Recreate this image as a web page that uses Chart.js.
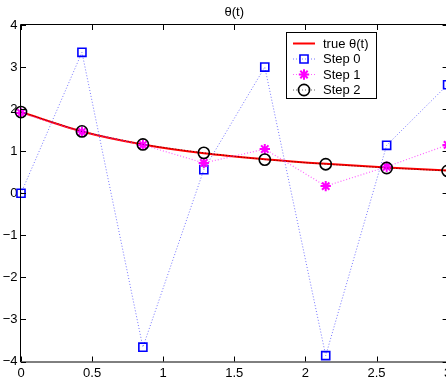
<!DOCTYPE html>
<html lang="en">

<head>
    <meta charset="UTF-8">
    <title>θ(t)</title>
    <script src="https://cdn.jsdelivr.net/npm/chart.js"></script>
    <style>
        body { margin: 0; overflow: hidden; background: #fff; }
        .chart-container { position: relative; width: 450px; height: 381px; }
    </style>
</head>

<body>
    <div class="chart-container">
        <canvas id="thetaChart" width="450" height="381"></canvas>
    </div>

    <script>
        // values
        const times = [0, 0.4286, 0.8571, 1.2857, 1.7143, 2.1429, 2.5714, 3];
        const trueTheta = [1.93, 1.47, 1.16, 0.95, 0.81, 0.70, 0.61, 0.54];
        const step0 = [0, 3.35, -3.66, 0.56, 3.0, -3.86, 1.14, 2.58];
        const step1 = [1.91, 1.46, 1.15, 0.72, 1.05, 0.17, 0.63, 1.15];
        const step2 = [1.93, 1.47, 1.16, 0.96, 0.80, 0.69, 0.60, 0.53];
        const xTicks = [0, 0.5, 1, 1.5, 2, 2.5, 3];
        const yTicks = [-4, -3, -2, -1, 0, 1, 2, 3, 4];
        const titleText = 'θ(t)';
        const legendLabels = ['true θ(t)', 'Step 0', 'Step 1', 'Step 2'];

        const toPoints = ys => times.map((t, i) => ({ x: t, y: ys[i] }));

        Chart.defaults.font.family = '"Liberation Sans", Arial, sans-serif';
        Chart.defaults.font.size = 13;
        Chart.defaults.color = '#000';

        const datasets = [{
            label: legendLabels[0],
            data: toPoints(trueTheta),
            borderColor: '#ff0000',
            borderWidth: 2,
            pointRadius: 0,
            cubicInterpolationMode: 'monotone',
            order: 3
        }, {
            label: legendLabels[1],
            data: toPoints(step0),
            borderColor: 'rgba(60, 60, 255, 0.7)',
            borderWidth: 1,
            borderDash: [1, 2],
            pointStyle: 'rect',
            pointRadius: 5.7,
            pointBorderWidth: 1.6,
            pointBorderColor: '#0000ff',
            pointBackgroundColor: 'rgba(0,0,0,0)',
            order: 2
        }, {
            label: legendLabels[2],
            data: toPoints(step1),
            borderColor: 'rgba(255, 60, 255, 0.8)',
            borderWidth: 1.2,
            borderDash: [1, 2],
            pointStyle: 'star',
            pointRadius: 5.2,
            pointBorderWidth: 2,
            pointBorderColor: '#ff00ff',
            pointBackgroundColor: 'rgba(0,0,0,0)',
            order: 1
        }, {
            label: legendLabels[3],
            data: toPoints(step2),
            borderColor: 'rgba(0, 0, 0, 0.6)',
            borderWidth: 1,
            borderDash: [1, 2],
            pointStyle: 'circle',
            pointRadius: 5.6,
            pointBorderWidth: 1.6,
            pointBorderColor: '#000',
            pointBackgroundColor: 'rgba(0,0,0,0)',
            order: 0
        }];

        // frame, inward ticks, title and legend in MATLAB style
        const matlabAxes = {
            id: 'matlabAxes',
            afterDraw(chart) {
                const ctx = chart.ctx;
                const area = chart.chartArea;
                const xs = chart.scales.x, ys = chart.scales.y;
                ctx.save();
                ctx.strokeStyle = '#000';
                ctx.lineWidth = 1;
                ctx.beginPath();
                ctx.rect(area.left - 0.5, area.top - 0.5, area.right - area.left, area.bottom - area.top + 1);
                xTicks.forEach(v => {
                    const px = Math.round(xs.getPixelForValue(v)) + 0.5;
                    ctx.moveTo(px, area.bottom); ctx.lineTo(px, area.bottom - 5);
                    ctx.moveTo(px, area.top); ctx.lineTo(px, area.top + 5);
                });
                yTicks.forEach(v => {
                    const py = Math.round(ys.getPixelForValue(v)) + 0.5;
                    ctx.moveTo(area.left, py); ctx.lineTo(area.left + 5, py);
                    ctx.moveTo(area.right, py); ctx.lineTo(area.right - 5, py);
                });
                ctx.stroke();

                // title
                ctx.fillStyle = '#000';
                ctx.font = '13px "Liberation Sans", Arial, sans-serif';
                ctx.textAlign = 'center';
                ctx.textBaseline = 'middle';
                ctx.fillText(titleText, (area.left + area.right) / 2, 12);

                // legend box
                const bx = 286.5, by = 32.5, bw = 90, bh = 66;
                ctx.fillStyle = '#fff';
                ctx.fillRect(bx, by, bw, bh);
                ctx.strokeRect(bx, by, bw, bh);
                const rowY = [43.5, 59, 74.5, 90];
                ctx.textAlign = 'left';
                datasets.forEach((ds, i) => {
                    const y = rowY[i];
                    ctx.save();
                    ctx.strokeStyle = ds.borderColor;
                    ctx.lineWidth = ds.borderWidth;
                    ctx.setLineDash(ds.borderDash || []);
                    ctx.beginPath();
                    ctx.moveTo(293, y); ctx.lineTo(315, y);
                    ctx.stroke();
                    ctx.restore();
                    if (ds.pointRadius > 0) {
                        ctx.save();
                        ctx.strokeStyle = ds.pointBorderColor;
                        ctx.fillStyle = ds.pointBackgroundColor;
                        ctx.lineWidth = ds.pointBorderWidth;
                        Chart.helpers.drawPoint(ctx, {
                            pointStyle: ds.pointStyle,
                            rotation: 0,
                            radius: ds.pointRadius,
                            borderWidth: ds.pointBorderWidth
                        }, 304, y);
                        ctx.restore();
                    }
                    ctx.fillStyle = '#000';
                    ctx.fillText(ds.label, 323, y + 0.5);
                });
                ctx.restore();
            }
        };

        const ctx = document.getElementById('thetaChart').getContext('2d');
        new Chart(ctx, {
            type: 'line',
            data: { datasets: datasets },
            plugins: [matlabAxes],
            options: {
                responsive: false,
                animation: false,
                devicePixelRatio: 1,
                clip: false,
                layout: {
                    autoPadding: false,
                    padding: { top: 25, right: 2.4, left: 0, bottom: 0 }
                },
                plugins: {
                    legend: { display: false },
                    title: { display: false },
                    tooltip: { enabled: false }
                },
                scales: {
                    x: {
                        type: 'linear',
                        min: 0,
                        max: 3,
                        grid: { display: false, drawTicks: false },
                        border: { display: false },
                        ticks: {
                            stepSize: 0.5, padding: 4, maxRotation: 0, autoSkip: false,
                            callback: v => String(v)
                        },
                        afterFit(scale) {
                            scale.height = 19.5;
                            scale.paddingLeft = 0;
                            scale.paddingRight = 0;
                        }
                    },
                    y: {
                        min: -4,
                        max: 4,
                        grid: { display: false, drawTicks: false },
                        border: { display: false },
                        ticks: {
                            stepSize: 1,
                            padding: 3.5,
                            autoSkip: false,
                            callback: v => String(v).replace('-', '\u2212')
                        },
                        afterFit(scale) {
                            scale.width = 21;
                            scale.paddingTop = 0;
                            scale.paddingBottom = 0;
                        }
                    }
                }
            }
        });
    </script>
</body>

</html>
